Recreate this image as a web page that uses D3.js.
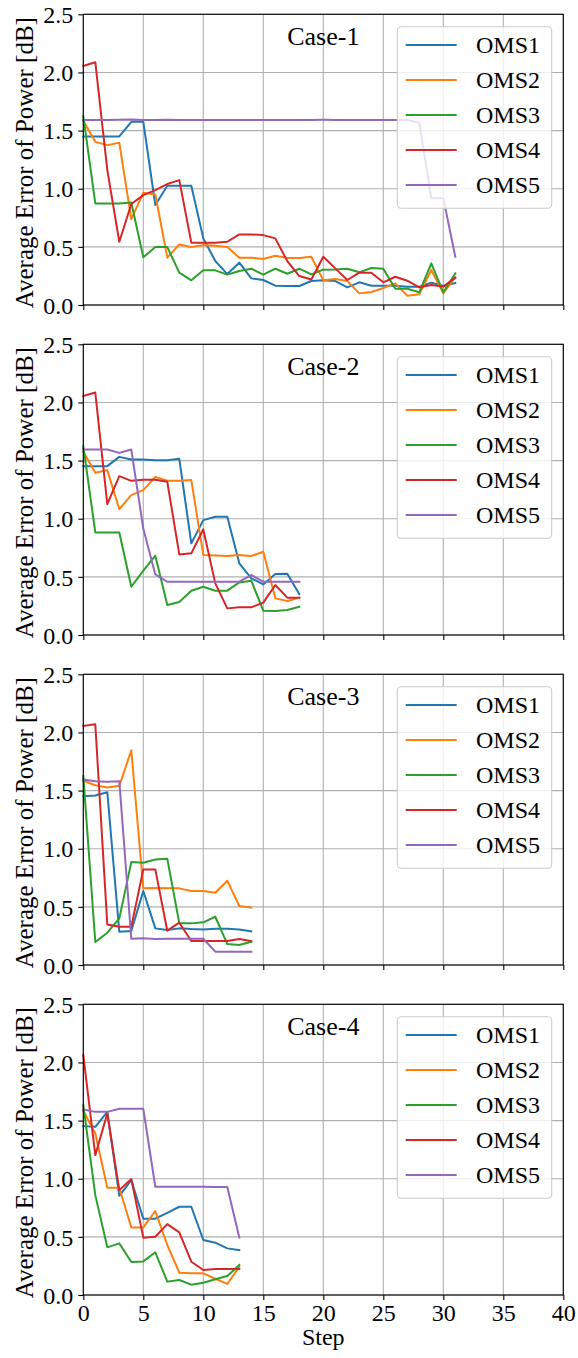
<!DOCTYPE html>
<html>
<head>
<meta charset="utf-8">
<script src="https://cdn.jsdelivr.net/npm/d3@7"></script>
<style>
  html, body { margin: 0; padding: 0; background: #ffffff; }
  svg { display: block; font-family: "Liberation Serif", "Times New Roman", serif; }
</style>
</head>
<body>
<svg id="chart" width="578" height="1358"></svg>
<script>
// Average power error per optimisation step, one panel per case, five OMS series each
const seriesNames = ["OMS1", "OMS2", "OMS3", "OMS4", "OMS5"];
const caseTitles = ["Case-1", "Case-2", "Case-3", "Case-4"];
const xTicks = [0, 5, 10, 15, 20, 25, 30, 35, 40];
const yTicks = [0.0, 0.5, 1.0, 1.5, 2.0, 2.5];

const case1 = [
  [1.45, 1.45, 1.45, 1.45, 1.575, 1.575, 0.86, 1.025, 1.025, 1.025, 0.573, 0.378, 0.266, 0.364, 0.229, 0.215, 0.166, 0.163, 0.163, 0.206, 0.212, 0.206, 0.152, 0.195, 0.166, 0.166, 0.166, 0.157, 0.157, 0.192, 0.163, 0.189],
  [1.584, 1.403, 1.375, 1.395, 0.739, 0.965, 0.951, 0.407, 0.521, 0.498, 0.515, 0.51, 0.498, 0.407, 0.407, 0.395, 0.424, 0.404, 0.404, 0.415, 0.212, 0.223, 0.206, 0.1, 0.112, 0.146, 0.186, 0.08, 0.092, 0.301, 0.1, 0.238],
  [1.624, 0.873, 0.873, 0.873, 0.882, 0.41, 0.498, 0.498, 0.278, 0.212, 0.298, 0.298, 0.261, 0.292, 0.312, 0.261, 0.312, 0.269, 0.312, 0.263, 0.304, 0.306, 0.312, 0.281, 0.318, 0.312, 0.14, 0.14, 0.109, 0.358, 0.109, 0.272],
  [2.056, 2.088, 1.16, 0.544, 0.868, 0.945, 0.988, 1.04, 1.074, 0.536, 0.536, 0.536, 0.544, 0.607, 0.607, 0.601, 0.573, 0.378, 0.249, 0.22, 0.415, 0.315, 0.215, 0.278, 0.278, 0.195, 0.243, 0.209, 0.152, 0.172, 0.158, 0.235],
  [1.592, 1.592, 1.59, 1.593, 1.595, 1.592, 1.592, 1.594, 1.592, 1.592, 1.592, 1.592, 1.592, 1.592, 1.59, 1.592, 1.592, 1.592, 1.592, 1.592, 1.593, 1.592, 1.592, 1.592, 1.592, 1.592, 1.592, 1.592, 1.566, 0.919, 0.919, 0.415]
];
const case2 = [
  [1.452, 1.452, 1.452, 1.532, 1.509, 1.509, 1.503, 1.503, 1.515, 0.788, 0.988, 1.017, 1.017, 0.616, 0.487, 0.435, 0.524, 0.527, 0.352],
  [1.575, 1.395, 1.418, 1.082, 1.203, 1.246, 1.36, 1.326, 1.326, 1.332, 0.687, 0.684, 0.679, 0.687, 0.679, 0.716, 0.315, 0.292, 0.321],
  [1.624, 0.882, 0.882, 0.882, 0.415, 0.553, 0.682, 0.258, 0.284, 0.381, 0.415, 0.381, 0.381, 0.452, 0.467, 0.209, 0.206, 0.215, 0.243],
  [2.056, 2.085, 1.125, 1.366, 1.326, 1.335, 1.335, 1.317, 0.693, 0.702, 0.908, 0.444, 0.229, 0.238, 0.238, 0.278, 0.43, 0.321, 0.321],
  [1.595, 1.595, 1.595, 1.566, 1.595, 0.916, 0.521, 0.458, 0.458, 0.458, 0.458, 0.458, 0.458, 0.458, 0.515, 0.458, 0.458, 0.458, 0.458]
];
const case3 = [
  [1.452, 1.458, 1.486, 0.286, 0.292, 0.636, 0.315, 0.301, 0.315, 0.309, 0.306, 0.312, 0.312, 0.306, 0.289],
  [1.584, 1.546, 1.526, 1.541, 1.847, 0.659, 0.662, 0.659, 0.659, 0.636, 0.636, 0.621, 0.725, 0.507, 0.493],
  [1.624, 0.198, 0.278, 0.401, 0.885, 0.879, 0.908, 0.914, 0.358, 0.358, 0.367, 0.415, 0.18, 0.172, 0.2],
  [2.056, 2.07, 0.349, 0.329, 0.329, 0.822, 0.822, 0.295, 0.364, 0.206, 0.206, 0.206, 0.206, 0.223, 0.206],
  [1.595, 1.581, 1.575, 1.581, 0.226, 0.229, 0.223, 0.226, 0.226, 0.226, 0.226, 0.115, 0.115, 0.115, 0.115]
];
const case4 = [
  [1.452, 1.446, 1.575, 0.853, 0.988, 0.656, 0.656, 0.707, 0.759, 0.759, 0.473, 0.45, 0.401, 0.387],
  [1.584, 1.389, 0.922, 0.922, 0.581, 0.581, 0.722, 0.43, 0.192, 0.186, 0.186, 0.14, 0.095, 0.243],
  [1.632, 0.859, 0.41, 0.444, 0.284, 0.289, 0.367, 0.115, 0.129, 0.089, 0.106, 0.135, 0.163, 0.258],
  [2.062, 1.203, 1.561, 0.902, 0.997, 0.493, 0.501, 0.61, 0.538, 0.286, 0.215, 0.223, 0.223, 0.223],
  [1.595, 1.575, 1.575, 1.601, 1.601, 1.601, 0.931, 0.931, 0.931, 0.931, 0.931, 0.928, 0.928, 0.495]
];

const cases = [case1, case2, case3, case4];
const colors = ["#1f77b4", "#ff7f0e", "#2ca02c", "#d62728", "#9467bd"];

const svg = d3.select("#chart");
const left = 83.3, right = 563.3;
const panelTops = [14.3, 344.3, 674.3, 1004.3];
const panelH = 290.7;

const x = d3.scaleLinear().domain([0, 40]).range([left, right]);

cases.forEach((caseData, ci) => {
  const top = panelTops[ci];
  const bottom = top + panelH;
  const y = d3.scaleLinear().domain([0, 2.5]).range([bottom, top]);
  const g = svg.append("g");

  // grid
  g.append("g").selectAll("line.gx").data(xTicks).join("line")
    .attr("x1", d => x(d)).attr("x2", d => x(d))
    .attr("y1", top).attr("y2", bottom)
    .attr("stroke", "#b0b0b0").attr("stroke-width", 1.1);
  g.append("g").selectAll("line.gy").data(yTicks).join("line")
    .attr("x1", left).attr("x2", right)
    .attr("y1", d => y(d)).attr("y2", d => y(d))
    .attr("stroke", "#b0b0b0").attr("stroke-width", 1.1);

  // series
  const line = d3.line().x((d, i) => x(i)).y(d => y(d));
  caseData.forEach((vals, si) => {
    g.append("path").datum(vals)
      .attr("d", line)
      .attr("fill", "none")
      .attr("stroke", colors[si])
      .attr("stroke-width", 2)
      .attr("stroke-linejoin", "round")
      .attr("stroke-linecap", "square");
  });

  // axes
  const isLast = ci === cases.length - 1;
  const xAxis = d3.axisBottom(x).tickValues(xTicks).tickSize(5).tickPadding(4)
    .tickFormat(isLast ? d3.format("d") : () => "");
  const xg = g.append("g").attr("transform", `translate(0,${bottom})`).call(xAxis);
  const yAxis = d3.axisLeft(y).tickValues(yTicks).tickSize(5).tickPadding(5)
    .tickFormat(d3.format(".1f"));
  const yg = g.append("g").attr("transform", `translate(${left},0)`).call(yAxis);
  [xg, yg].forEach(a => {
    a.select(".domain").remove();
    a.selectAll(".tick line").attr("stroke", "#000").attr("stroke-width", 1.1);
    a.selectAll(".tick text").attr("fill", "#000").attr("font-size", 24)
      .attr("font-family", "Liberation Serif");
  });
  xg.selectAll(".tick text").attr("dy", "0.72em");
  yg.selectAll(".tick text").attr("dy", "0.34em");

  // frame
  g.append("rect")
    .attr("x", left).attr("y", top)
    .attr("width", right - left).attr("height", panelH)
    .attr("fill", "none").attr("stroke", "#000").attr("stroke-width", 1.1);

  // title
  g.append("text")
    .attr("x", (left + right) / 2).attr("y", top + 30.5)
    .attr("text-anchor", "middle")
    .attr("font-size", 26)
    .text(caseTitles[ci]);

  // y label
  g.append("text")
    .attr("transform", `translate(33,${top + panelH / 2 + 3}) rotate(-90)`)
    .attr("text-anchor", "middle")
    .attr("font-size", 25)
    .text("Average Error of Power [dB]");

  // legend
  const lg = g.append("g");
  lg.append("rect")
    .attr("x", 397.3).attr("y", top + 12.4)
    .attr("width", 154.4).attr("height", 181.6)
    .attr("rx", 4).attr("ry", 4)
    .attr("fill", "#ffffff").attr("fill-opacity", 0.8)
    .attr("stroke", "#cccccc").attr("stroke-width", 1.1);
  seriesNames.forEach((name, si) => {
    const cy = top + 30.7 + si * 35;
    lg.append("line")
      .attr("x1", 405.7).attr("x2", 456.7)
      .attr("y1", cy).attr("y2", cy)
      .attr("stroke", colors[si]).attr("stroke-width", 2);
    lg.append("text")
      .attr("x", 476).attr("y", cy)
      .attr("dy", "0.34em")
      .attr("font-size", 24)
      .text(name);
  });

  if (isLast) {
    g.append("text")
      .attr("x", (left + right) / 2).attr("y", bottom + 50)
      .attr("text-anchor", "middle")
      .attr("font-size", 24)
      .text("Step");
  }
});
</script>
</body>
</html>
